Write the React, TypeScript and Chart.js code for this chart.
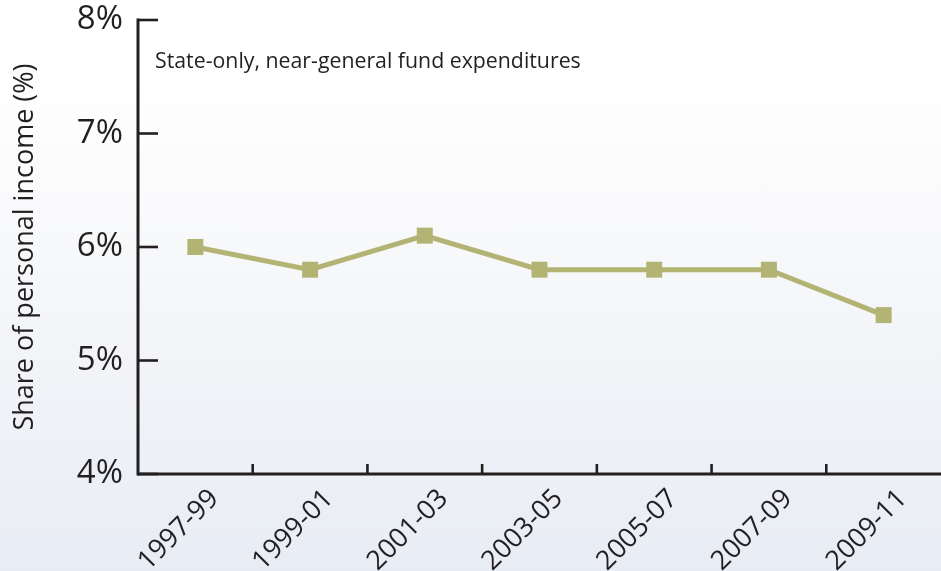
import React, { useEffect, useRef } from "react";
import { Chart, registerables } from "chart.js";

Chart.register(...registerables);

const categories = ["1997-99", "1999-01", "2001-03", "2003-05", "2005-07", "2007-09", "2009-11"];
const shareValues = [6.0, 5.8, 6.1, 5.8, 5.8, 5.8, 5.4];
const yTickValues = [4, 5, 6, 7, 8];
const annotationText = "State-only, near-general fund expenditures";
const yAxisTitle = "Share of personal income (%)";

const INK = "#231f20";
const LINE = "#b3b474";
const FONT = "'Open Sans', 'Noto Sans', sans-serif";

const axesPlugin = {
  id: "customAxes",
  afterDraw(chart: any) {
    const { ctx, chartArea } = chart;
    const xs = chart.scales.x;
    const ys = chart.scales.y;
    ctx.save();
    ctx.strokeStyle = INK;
    ctx.lineWidth = 3;
    ctx.lineCap = "butt";
    ctx.beginPath();
    ctx.moveTo(chartArea.left, ys.getPixelForValue(8) - 1.5);
    ctx.lineTo(chartArea.left, chartArea.bottom + 1.5);
    ctx.stroke();
    ctx.beginPath();
    ctx.moveTo(chartArea.left, chartArea.bottom);
    ctx.lineTo(chart.width, chartArea.bottom);
    ctx.stroke();
    ctx.lineWidth = 2.6;
    yTickValues.forEach((v) => {
      const py = ys.getPixelForValue(v);
      ctx.beginPath();
      ctx.moveTo(chartArea.left, py);
      ctx.lineTo(chartArea.left + 20, py);
      ctx.stroke();
    });
    for (let i = 1; i < categories.length; i++) {
      const px = (xs.getPixelForValue(i - 1) + xs.getPixelForValue(i)) / 2;
      ctx.beginPath();
      ctx.moveTo(px, chartArea.bottom);
      ctx.lineTo(px, chartArea.bottom - 10);
      ctx.stroke();
    }
    ctx.fillStyle = INK;
    ctx.font = `21.3px ${FONT}`;
    ctx.textAlign = "left";
    ctx.textBaseline = "middle";
    ctx.fillText(annotationText, chartArea.left + 17, ys.getPixelForValue(7.63));
    ctx.restore();
  },
};

export default function App() {
  const canvasRef = useRef<HTMLCanvasElement | null>(null);

  useEffect(() => {
    document.body.style.margin = "0";
    const canvas = canvasRef.current;
    if (!canvas) return;
    const chart = new Chart(canvas, {
      type: "line",
      data: {
        labels: categories,
        datasets: [
          {
            data: shareValues,
            borderColor: LINE,
            backgroundColor: LINE,
            borderWidth: 5,
            pointStyle: "rect",
            pointRadius: 11.3,
            pointHoverRadius: 11.3,
            pointBorderWidth: 0,
            tension: 0,
            clip: false,
          },
        ],
      },
      options: {
        animation: false,
        responsive: false,
        maintainAspectRatio: false,
        layout: { autoPadding: false, padding: { top: 20, right: 0, left: 0, bottom: 0 } },
        plugins: { legend: { display: false }, tooltip: { enabled: false } },
        scales: {
          x: {
            type: "category",
            offset: true,
            grid: { display: false, drawTicks: false },
            border: { display: false },
            afterFit: (s: any) => {
              s.height = 97;
              s.paddingLeft = 0;
              s.paddingRight = 0;
            },
            ticks: {
              minRotation: 45,
              maxRotation: 45,
              autoSkip: false,
              padding: 9,
              labelOffset: 19,
              color: INK,
              font: { family: FONT, size: 27 },
            },
          },
          y: {
            min: 4,
            max: 8,
            grid: { display: false, drawTicks: false },
            border: { display: false },
            afterFit: (s: any) => {
              s.width = 138;
              s.paddingTop = 0;
              s.paddingBottom = 0;
            },
            afterBuildTicks: (s: any) => {
              s.ticks = yTickValues.map((v) => ({ value: v }));
            },
            ticks: {
              padding: 15,
              color: INK,
              font: { family: FONT, size: 33 },
              callback: (v: any) => `${v}%`,
            },
            title: {
              display: true,
              text: yAxisTitle,
              color: INK,
              font: { family: FONT, size: 27 },
              padding: { top: 9, bottom: 0 },
            },
          },
        },
      },
      plugins: [axesPlugin],
    });
    return () => chart.destroy();
  }, []);

  return (
    <div
      style={{
        width: 941,
        height: 571,
        background: "linear-gradient(to bottom, #ffffff 0%, #ffffff 14%, #f7f8fa 45%, #e8ecf4 100%)",
      }}
    >
      <canvas ref={canvasRef} width={941} height={571} style={{ display: "block", width: 941, height: 571 }} />
    </div>
  );
}
